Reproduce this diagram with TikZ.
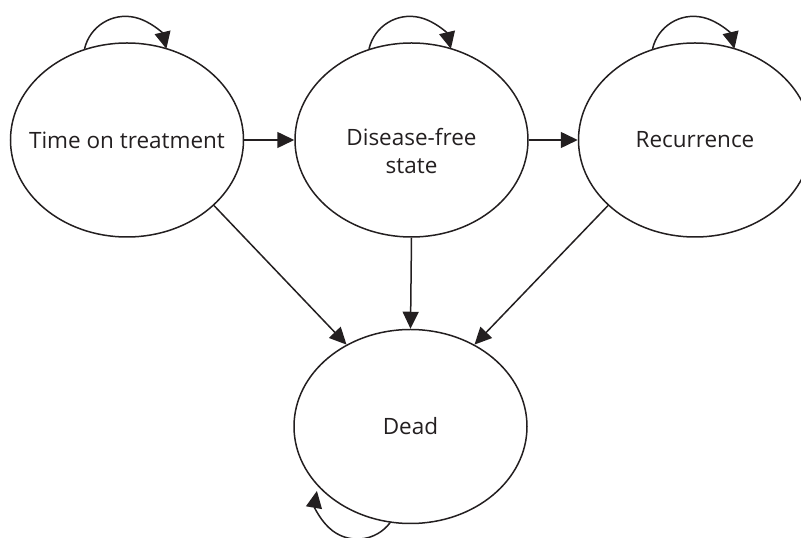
\documentclass[tikz,border=0pt]{standalone}
\usepackage{fontspec}
\setmainfont{Open Sans}
\usetikzlibrary{shapes.geometric,arrows.meta}
\definecolor{ink}{HTML}{231F20}

\begin{document}
\begin{tikzpicture}[x=1pt,y=1pt,
    state/.style={draw=ink, ellipse, line width=1.5pt, minimum width=233pt,
        minimum height=194pt, inner xsep=-20pt, inner ysep=0pt, align=center,
        text=ink, font=\fontsize{22.5}{28}\selectfont},
    trans/.style={draw=ink, line width=1.5pt, -{Triangle[length=17pt,width=16pt]}}]

    \useasboundingbox (0,0) rectangle (801,538);

    % States
    \node[state] (treat) at (127,398) {Time on treatment};
    \node[state, text height=72pt, text depth=4pt] (free) at (411.5,398) {Disease-free\\state};
    \node[state] (recur) at (695,398) {Recurrence};
    \node[state] (dead)  at (410.5,111.5) {Dead};

    % Moving on
    \draw[trans] (treat.east) -- (free.west);
    \draw[trans] (free.east) -- (recur.west);
    \draw[trans] (treat.-37) -- (dead.128);
    \draw[trans] (free.south) -- (dead.north);
    \draw[trans] (recur.217) -- (dead.52);

    % Staying put
    \draw[trans] (treat.115) arc[start angle=167, end angle=13, radius=42];
    \draw[trans] (free.115) arc[start angle=167, end angle=13, radius=42];
    \draw[trans] (recur.115) arc[start angle=167, end angle=13, radius=42];
    \draw[trans] (dead.258) arc[start angle=-37, end angle=-190, radius=41];

\end{tikzpicture}
\end{document}
